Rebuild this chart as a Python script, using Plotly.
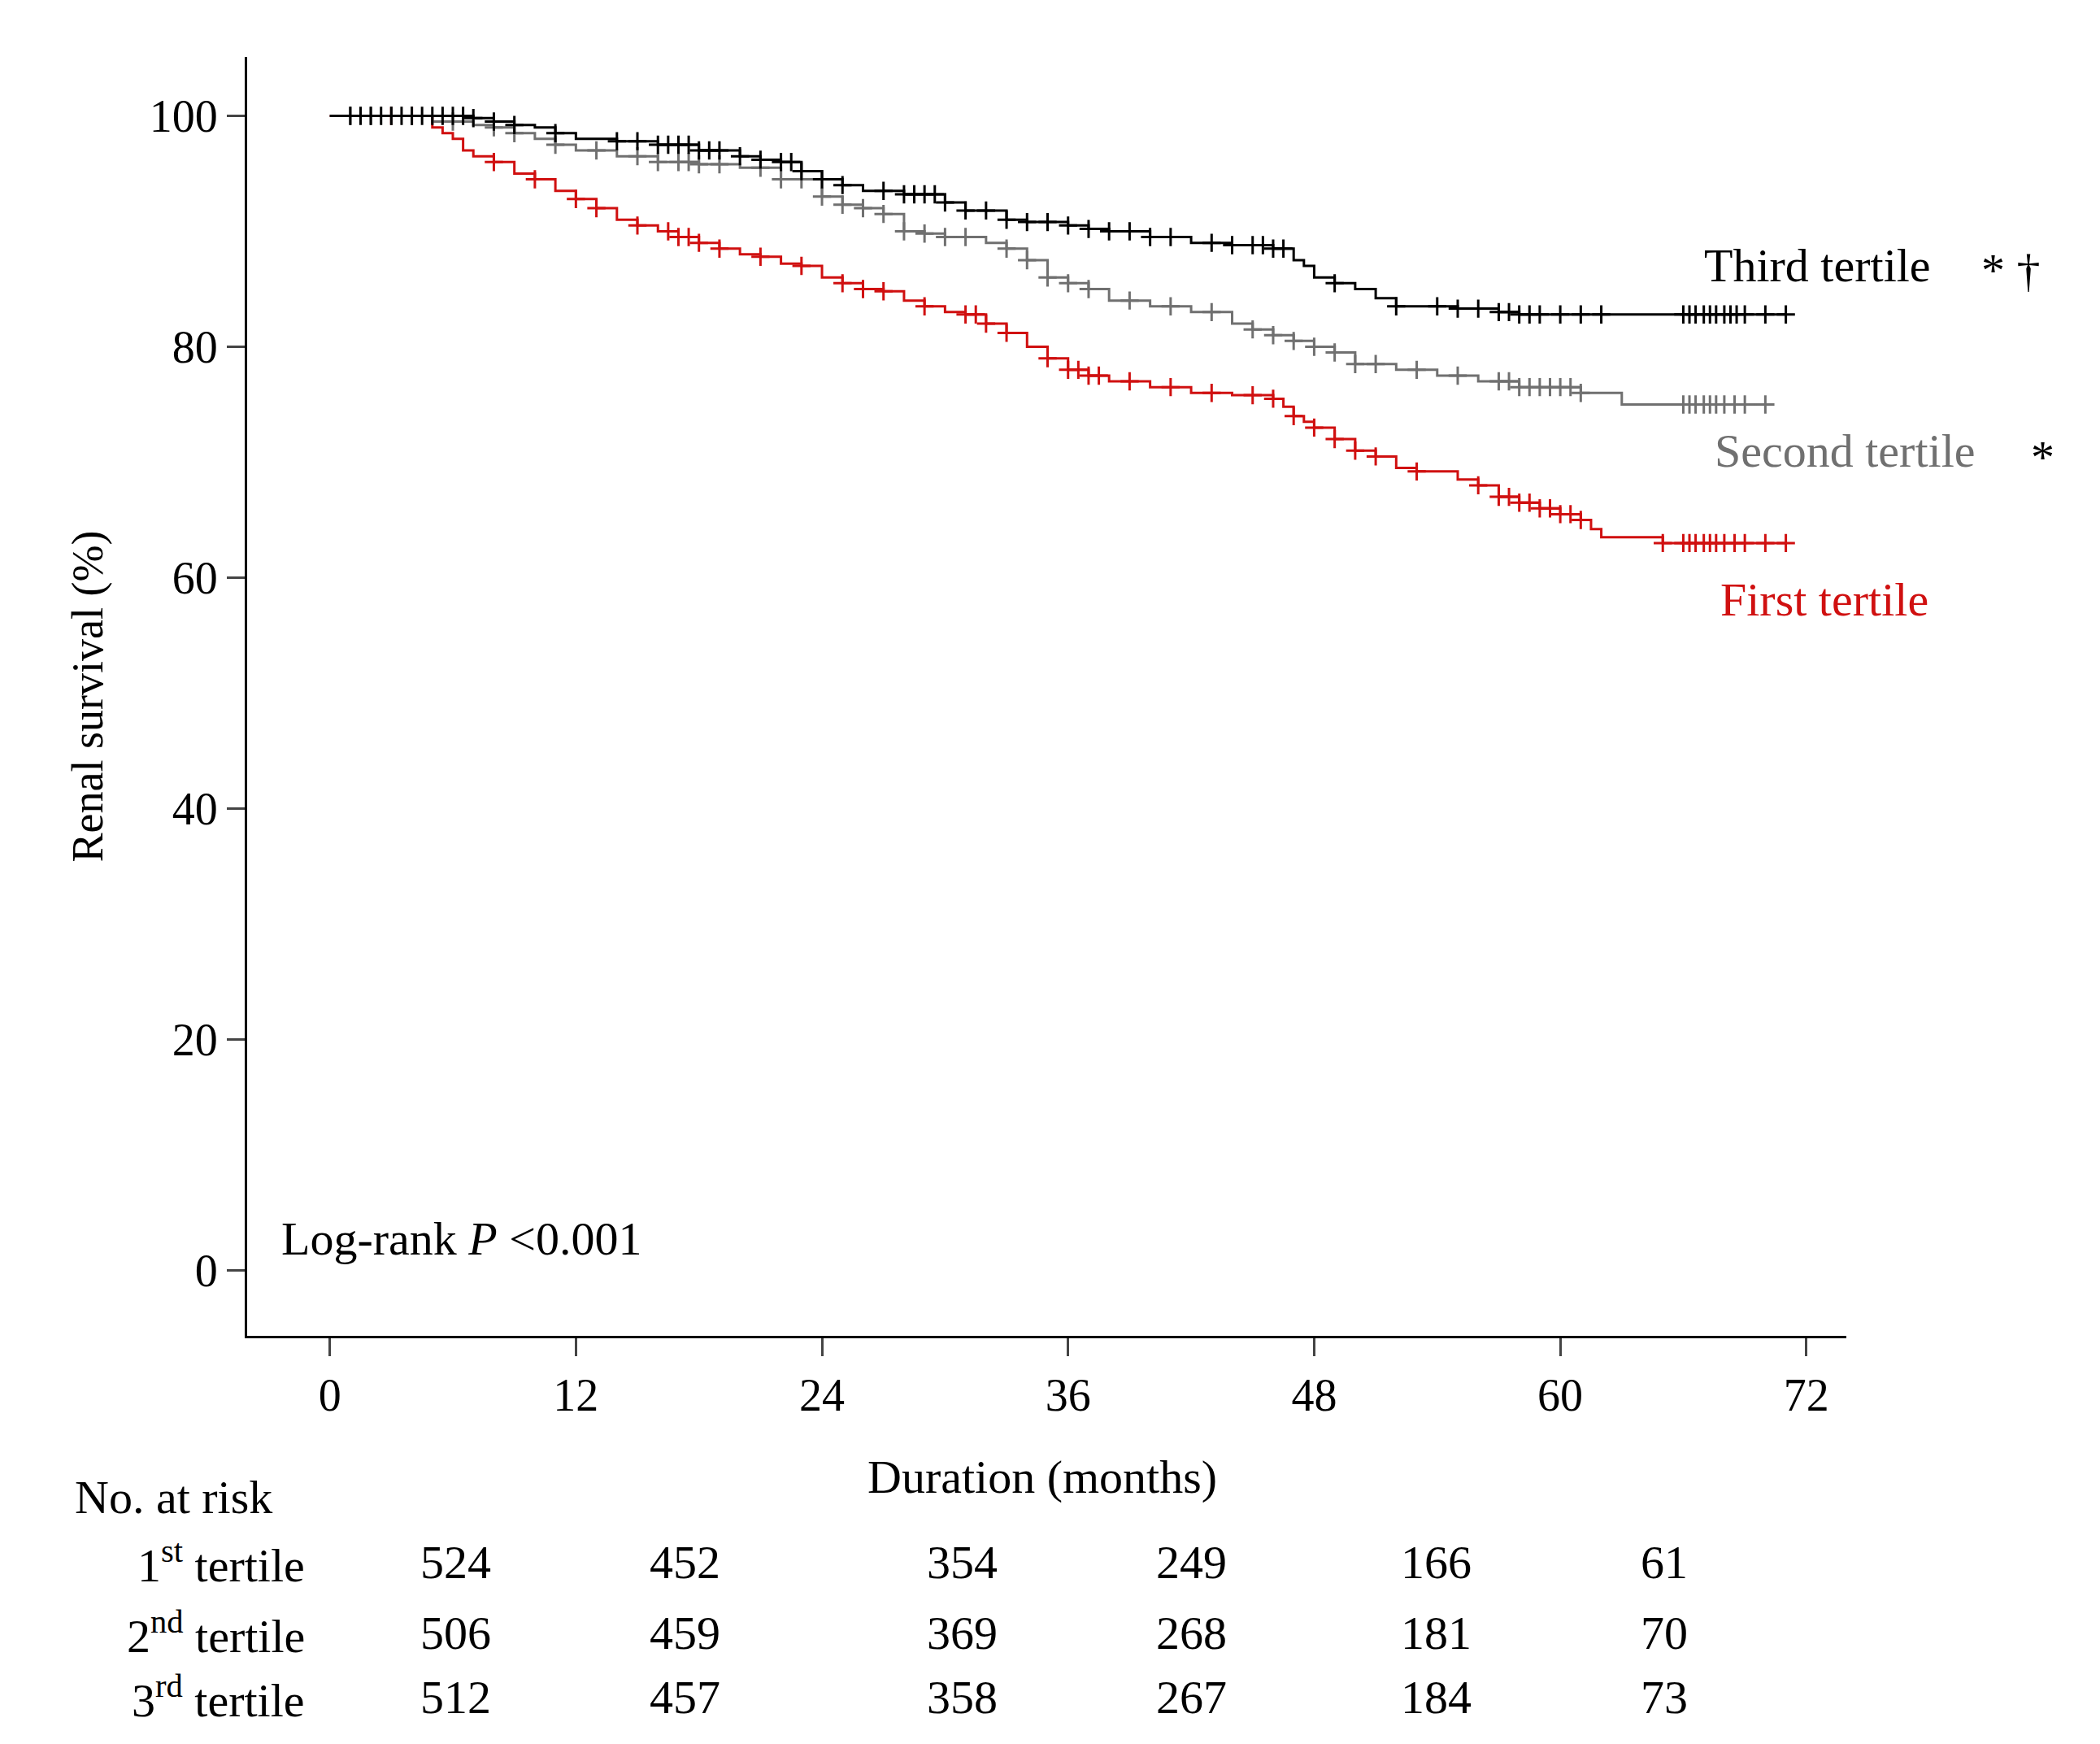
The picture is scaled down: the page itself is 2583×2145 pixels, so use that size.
import plotly.graph_objects as go

S = 1.64
W, H = 2583, 2145
L, R, T, B = int(181*S), int(1380*S), int(38*S), int(997*S)

third_t = [0,5,7,8,9,10,11,12,14,16,18,20,21,22,23,24,25,26,28,30,31,33,34,36,37,38,40,42,44,46,47,47.5,48,49,50,51,52,55,57,58,60,71]
third_s = [100,100,99.8,99.5,99.2,99,98.5,98,97.8,97.5,97,96.5,96.2,96,95.2,94.5,94,93.5,93.2,92.5,91.8,91,90.8,90.5,90.2,90,89.5,89,88.8,88.5,87.5,87,86,85.5,85,84.2,83.5,83.3,83,82.8,82.8,82.8]
second_t = [0,5,7,8,9,10,11,12,14,16,18,20,22,24,25,26,27,28,29,30,32,33,34,35,36,37,38,40,42,44,45,46,47,48,49,50,52,54,56,58,61,62,63,70]
second_s = [100,99.5,99.2,99,98.5,98,97.5,97,96.5,96,95.8,95.5,94.5,93,92.3,92,91.5,90,89.8,89.5,89,88.5,87.5,86,85.5,85,84,83.5,83,82,81.5,81,80.5,80,79.5,78.5,78,77.5,77,76.5,76,76,75,75]
first_t = [0,5,5.5,6,6.5,7,8,9,10,11,12,13,14,15,16,17,18,19,20,21,22,23,24,25,26,27,28,29,30,31,32,33,34,35,36,37,38,40,42,44,46,46.5,47,47.5,48,49,50,51,52,53,55,56,57,58,59,60,61,61.5,62,65,71]
first_s = [100,99,98.5,98,97,96.5,96,95,94.5,93.5,92.8,92,91,90.5,90,89.5,89,88.5,88,87.8,87.2,87,86,85.5,85,84.8,84,83.5,83,82.8,82,81.2,80,79,78,77.5,77,76.5,76,75.8,75.5,74.8,74,73.5,73,72,71,70.5,69.5,69.2,68.5,68,67,66.5,66,65.5,65,64.2,63.5,63,63]

third_c = [1,1.5,2,2.5,3,3.5,4,4.5,5,5.5,6,6.5,7,8,9,11,14,15,16,16.5,17,17.5,18,18.5,19,20,21,22,22.5,23,24,25,27,28,28.5,29,29.5,30,31,32,33,34,35,36,37,38,39,40,41,43,44,45,45.5,46,46.5,49,52,54,55,56,57,57.5,58,58.5,59,60,61,62,66,66.3,66.6,67,67.3,67.6,68,68.3,68.6,69,70,71]
second_c = [1,2,3,4,6,8,9,11,13,15,16,17,17.5,18,19,21,22,23,24,25,26,27,28,29,30,31,33,34,35,36,37,39,41,43,45,46,47,48,49,50,51,53,55,57,57.5,58,58.5,59,59.5,60,60.5,61,66,66.3,66.6,67,67.3,67.6,68,68.5,69,70]
first_c = [3,4,8,10,12,13,15,16.5,17,17.5,18,19,21,23,25,26,27,29,31,31.5,32,33,35,36,36.5,37,37.5,39,41,43,45,46,47,48,49,50,51,53,56,57,57.5,58,58.5,59,59.5,60,60.5,61,65,66,66.3,66.6,67,67.3,67.6,68,68.5,69,70,71]

tick_vals_x = [0,12,24,36,48,60,72]
tick_vals_y = [0,20,40,60,80,100]
risk_rows = ["1<sup>st</sup> tertile","2<sup>nd</sup> tertile","3<sup>rd</sup> tertile"]
risk_vals = [[524,452,354,249,166,61],[506,459,369,268,181,70],[512,457,358,267,184,73]]

def step_at(ts, ss, t):
    v = ss[0]
    for a, b in zip(ts, ss):
        if a <= t: v = b
    return v

fig = go.Figure()
series = [(first_t, first_s, first_c, "#d01010"), (second_t, second_s, second_c, "#707070"), (third_t, third_s, third_c, "#000000")]
for ts, ss, cs, col in series:
    fig.add_trace(go.Scatter(x=ts, y=ss, mode="lines", line=dict(color=col, width=3, shape="hv"), showlegend=False))
    fig.add_trace(go.Scatter(x=cs, y=[step_at(ts, ss, c) for c in cs], mode="markers",
                             marker=dict(symbol="cross-thin", size=16, line=dict(color=col, width=3)), showlegend=False))

font = "Liberation Serif"
fig.update_layout(width=W, height=H, paper_bgcolor="white", plot_bgcolor="white",
                  margin=dict(l=L, r=W-R, t=T, b=H-B),
                  font=dict(family=font, size=56, color="black"))
fig.update_xaxes(range=[-4.03, 73.95], tickvals=tick_vals_x, ticks="outside", ticklen=22, tickwidth=3,
                 showline=True, linecolor="black", linewidth=3, showgrid=False, zeroline=False)
fig.update_yaxes(range=[-5.66, 105.1], tickvals=tick_vals_y, ticks="outside", ticklen=22, tickwidth=3,
                 showline=True, linecolor="black", linewidth=3, showgrid=False, zeroline=False,
                 title=dict(text="Renal survival (%)", standoff=40, font=dict(size=54)))

def px(x): return (x*S - L)/(R - L)
def py(y): return (B - y*S)/(B - T)
def ann(x, y, text, col="black", xa="center", size=58):
    fig.add_annotation(x=px(x), y=py(y), xref="paper", yref="paper", text=text, showarrow=False,
                       xanchor=xa, yanchor="middle", font=dict(color=col, size=size, family=font))

ann(1272, 194, "Third tertile", xa="left")
ann(1480, 198, "* †", xa="left")
ann(1280, 333, "Second tertile", "#707070", xa="left")
ann(1517, 338, "*", xa="left")
ann(1284, 445, "First tertile", "#d01010", xa="left")
ann(205, 924, "Log-rank <i>P</i> <0.001", xa="left")
ann(777, 1103, "Duration (months)")
ann(50, 1118, "No. at risk", xa="left")
cols = [337,509,717,889,1072,1243]
rows_y = [1167,1220,1268]
for r, (lab, vals) in enumerate(zip(risk_rows, risk_vals)):
    ann(225, rows_y[r], lab, xa="right")
    for c, v in zip(cols, vals):
        ann(c, rows_y[r], str(v))

fig.write_html("out.html")
